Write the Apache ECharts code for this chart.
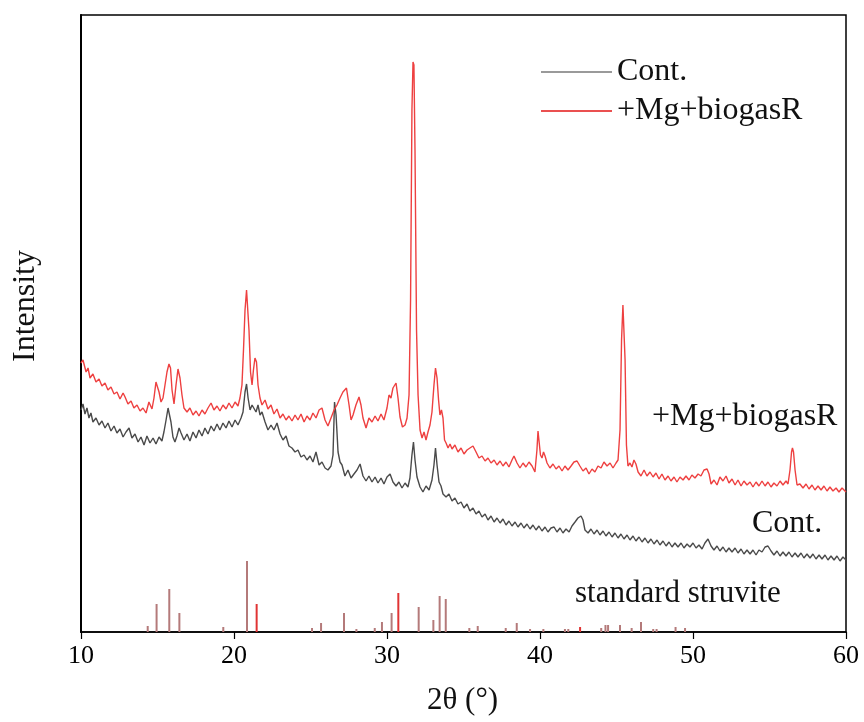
<!DOCTYPE html>
<html>
<head>
<meta charset="utf-8">
<script src="https://cdn.jsdelivr.net/npm/echarts@6/dist/echarts.min.js"></script>
<style>html,body{margin:0;padding:0;background:#fff}#c{width:864px;height:722px}</style>
</head>
<body>
<div id="c"></div>
<script>
// 2θ tick values
const xTicks = [10, 20, 30, 40, 50, 60];
const seriesNames = ['Cont.', '+Mg+biogasR'];

// +Mg+biogasR pattern: [2θ, intensity (a.u.)]
const mgData = [
[10.00,269],[10.13,272],[10.33,260],[10.46,264],[10.59,254],[10.78,258],[10.98,250],[11.18,253],[11.37,246],[11.57,249],
[11.76,242],[11.96,245],[12.16,238],[12.35,240],[12.55,233],[12.75,239],[12.88,235],[13.07,228],[13.27,231],[13.46,224],
[13.66,227],[13.86,221],[14.05,224],[14.25,219],[14.44,230],[14.64,223],[14.77,234],[14.90,250],[15.00,252],[15.10,240],
[15.23,230],[15.36,234],[15.49,247],[15.62,260],[15.75,268],[15.85,264],[15.95,242],[16.08,228],[16.21,247],[16.34,263],
[16.47,254],[16.60,237],[16.73,224],[16.93,220],[17.12,224],[17.32,217],[17.52,221],[17.71,216],[17.91,222],[18.10,218],
[18.30,224],[18.50,229],[18.69,222],[18.89,226],[19.08,221],[19.28,227],[19.48,223],[19.67,229],[19.87,224],[20.07,230],
[20.26,226],[20.39,234],[20.52,247],[20.62,282],[20.72,322],[20.82,342],[20.88,340],[20.98,302],[21.08,260],[21.18,247],
[21.27,262],[21.37,274],[21.47,270],[21.57,247],[21.70,234],[21.83,227],[22.03,232],[22.22,223],[22.42,227],[22.61,218],
[22.81,223],[23.01,214],[23.20,218],[23.40,212],[23.59,216],[23.79,211],[23.99,217],[24.18,212],[24.38,218],[24.58,210],
[24.77,216],[24.97,212],[25.16,219],[25.36,214],[25.56,222],[25.75,224],[25.95,212],[26.14,206],[26.34,214],[26.54,222],
[26.73,227],[26.93,234],[27.12,240],[27.35,244],[27.52,227],[27.65,212],[27.78,217],[27.97,227],[28.17,235],[28.30,227],
[28.43,214],[28.63,204],[28.82,214],[29.02,210],[29.22,216],[29.41,211],[29.61,218],[29.80,212],[30.00,224],[30.13,237],
[30.26,234],[30.39,244],[30.59,249],[30.72,234],[30.85,215],[31.01,205],[31.18,207],[31.31,214],[31.44,237],[31.54,332],
[31.63,522],[31.70,570],[31.76,567],[31.83,482],[31.93,302],[32.03,237],[32.16,202],[32.29,194],[32.42,200],[32.55,192],
[32.68,200],[32.81,207],[32.94,220],[33.07,247],[33.17,264],[33.27,254],[33.37,232],[33.46,217],[33.56,222],[33.66,214],
[33.76,192],[33.86,189],[33.99,184],[34.12,188],[34.25,183],[34.44,187],[34.64,180],[34.84,184],[35.03,178],[35.23,182],
[35.42,184],[35.62,186],[35.82,180],[36.01,174],[36.21,176],[36.41,171],[36.60,174],[36.80,169],[37.00,172],[37.19,167],
[37.39,171],[37.58,166],[37.78,170],[37.97,165],[38.17,172],[38.30,176],[38.50,169],[38.69,164],[38.89,169],[39.08,165],
[39.28,170],[39.48,166],[39.67,160],[39.80,182],[39.87,201],[39.93,192],[40.03,177],[40.13,174],[40.23,180],[40.33,176],
[40.46,169],[40.65,164],[40.85,168],[41.05,163],[41.24,166],[41.44,161],[41.63,166],[41.83,162],[42.03,166],[42.22,170],
[42.42,171],[42.61,166],[42.81,161],[43.01,164],[43.20,158],[43.40,163],[43.59,160],[43.79,166],[43.99,164],[44.18,170],
[44.38,166],[44.58,169],[44.77,164],[44.97,169],[45.10,172],[45.23,202],[45.33,292],[45.42,327],[45.49,328],[45.56,272],
[45.65,187],[45.75,166],[45.88,169],[46.01,165],[46.14,172],[46.27,168],[46.41,160],[46.60,156],[46.80,162],[46.99,156],
[47.19,160],[47.39,155],[47.58,159],[47.78,153],[47.97,158],[48.17,152],[48.37,156],[48.56,151],[48.76,155],[48.95,150],
[49.15,155],[49.35,152],[49.54,156],[49.74,152],[49.93,157],[50.13,154],[50.33,158],[50.52,156],[50.72,162],[50.92,163],
[51.05,158],[51.18,148],[51.37,152],[51.57,147],[51.76,155],[51.96,151],[52.16,156],[52.35,149],[52.55,153],[52.75,147],
[52.94,152],[53.14,146],[53.33,151],[53.53,147],[53.73,150],[53.92,145],[54.12,150],[54.31,146],[54.51,151],[54.71,146],
[54.90,150],[55.10,145],[55.29,149],[55.49,146],[55.69,151],[55.88,147],[56.08,151],[56.21,148],[56.34,162],[56.44,180],
[56.50,184],[56.57,180],[56.67,162],[56.80,147],[56.99,148],[57.19,144],[57.39,148],[57.58,143],[57.78,147],[57.97,142],
[58.17,146],[58.37,142],[58.56,146],[58.76,141],[58.95,145],[59.15,141],[59.35,144],[59.54,140],[59.74,144],[60.00,140]
];

// Cont. pattern: [2θ, intensity (a.u.)]
const contData = [
[10.00,222],[10.13,228],[10.26,218],[10.39,224],[10.52,214],[10.65,219],[10.78,210],[10.98,214],[11.18,207],[11.37,211],
[11.57,204],[11.76,209],[11.96,201],[12.16,206],[12.35,199],[12.55,203],[12.75,195],[12.94,200],[13.14,204],[13.33,194],
[13.53,198],[13.73,190],[13.92,195],[14.12,187],[14.31,196],[14.51,189],[14.71,194],[14.90,188],[15.10,195],[15.29,191],
[15.42,200],[15.56,212],[15.69,224],[15.78,226],[15.88,210],[16.01,195],[16.14,190],[16.27,196],[16.41,204],[16.54,199],
[16.73,192],[16.93,198],[17.12,191],[17.32,200],[17.52,194],[17.71,202],[17.91,196],[18.10,204],[18.30,198],[18.50,206],
[18.69,201],[18.89,208],[19.08,202],[19.28,209],[19.48,204],[19.67,211],[19.87,205],[20.07,212],[20.26,207],[20.46,214],
[20.59,220],[20.72,240],[20.82,248],[20.92,234],[21.05,222],[21.18,227],[21.31,226],[21.44,220],[21.57,227],[21.70,217],
[21.83,220],[22.03,210],[22.22,202],[22.42,207],[22.61,202],[22.81,209],[23.01,198],[23.20,192],[23.40,196],[23.59,186],
[23.79,184],[23.99,180],[24.18,182],[24.38,175],[24.58,177],[24.77,172],[24.97,176],[25.16,170],[25.36,180],[25.56,167],
[25.75,170],[25.95,164],[26.14,162],[26.34,166],[26.47,177],[26.57,230],[26.67,217],[26.80,180],[26.93,170],[27.06,167],
[27.25,156],[27.45,162],[27.65,154],[27.84,158],[28.04,162],[28.24,168],[28.43,156],[28.63,151],[28.82,156],[29.02,150],
[29.22,155],[29.41,149],[29.61,154],[29.80,148],[30.00,155],[30.20,158],[30.39,150],[30.59,146],[30.78,150],[30.98,144],
[31.18,149],[31.37,145],[31.50,154],[31.63,177],[31.73,190],[31.83,172],[31.96,155],[32.16,145],[32.35,140],[32.55,146],
[32.75,142],[32.94,152],[33.07,167],[33.17,184],[33.27,167],[33.40,150],[33.53,146],[33.66,138],[33.86,135],[34.05,138],
[34.25,131],[34.44,134],[34.64,128],[34.84,130],[35.03,124],[35.23,128],[35.42,121],[35.62,124],[35.82,118],[36.01,121],
[36.21,115],[36.41,118],[36.60,112],[36.80,116],[37.00,110],[37.19,114],[37.39,109],[37.58,113],[37.78,107],[37.97,111],
[38.17,106],[38.37,110],[38.56,105],[38.76,109],[38.95,104],[39.15,108],[39.35,103],[39.54,107],[39.74,102],[39.93,106],
[40.13,101],[40.33,105],[40.52,100],[40.72,104],[40.92,105],[41.11,100],[41.31,104],[41.50,99],[41.70,103],[41.90,100],
[42.09,106],[42.29,110],[42.48,114],[42.68,116],[42.81,112],[42.94,102],[43.14,99],[43.33,103],[43.53,98],[43.73,102],
[43.92,97],[44.12,101],[44.31,96],[44.51,100],[44.71,95],[44.90,99],[45.10,94],[45.29,98],[45.49,93],[45.69,97],
[45.88,92],[46.08,96],[46.27,91],[46.47,95],[46.67,90],[46.86,94],[47.06,89],[47.25,93],[47.45,88],[47.65,92],
[47.84,87],[48.04,91],[48.24,86],[48.43,90],[48.63,85],[48.82,89],[49.02,85],[49.22,89],[49.41,84],[49.61,88],
[49.80,85],[50.00,89],[50.20,84],[50.39,87],[50.59,83],[50.78,89],[50.98,93],[51.18,86],[51.37,82],[51.57,86],
[51.76,81],[51.96,85],[52.16,80],[52.35,84],[52.55,80],[52.75,84],[52.94,79],[53.14,83],[53.33,78],[53.53,82],
[53.73,78],[53.92,82],[54.12,77],[54.31,82],[54.51,80],[54.71,85],[54.90,86],[55.10,81],[55.29,77],[55.49,81],
[55.69,76],[55.88,80],[56.08,76],[56.27,80],[56.47,75],[56.67,79],[56.86,75],[57.06,79],[57.25,74],[57.45,78],
[57.65,74],[57.84,78],[58.04,73],[58.24,77],[58.43,73],[58.63,77],[58.82,72],[59.02,76],[59.22,72],[59.41,76],
[59.61,71],[59.80,75],[60.00,72]
];

// standard struvite reference lines: [2θ, relative height]
const struviteLines = [
[14.36,6],[14.94,28],[15.77,43],[16.43,19],[19.30,5],[20.85,71],[25.10,4],[25.69,9],[27.19,19],[28.00,3],
[29.20,4],[29.67,10],[30.30,19],[32.07,25],[33.03,12],[33.44,36],[33.84,33],[35.38,4],[35.93,6],[37.76,4],
[38.48,9],[39.35,3],[40.22,3],[41.63,3],[41.85,3],[44.00,4],[44.28,7],[44.45,7],[45.23,7],[45.99,4],
[46.60,10],[47.40,3],[47.62,3],[48.86,5],[49.48,4]
];
const struviteStrong = [[21.48,28],[30.74,39],[42.62,5]];

const FONT = "'Liberation Serif','Times New Roman',serif";
const chart = echarts.init(document.getElementById('c'));

function stickRenderer(color) {
  return function (params, api) {
    const p0 = api.coord([api.value(0), 0]);
    const p1 = api.coord([api.value(0), api.value(1)]);
    return {
      type: 'line',
      shape: { x1: p0[0], y1: p0[1], x2: p1[0], y2: p1[1] },
      style: { stroke: color, lineWidth: 2 }
    };
  };
}

chart.setOption({
  animation: false,
  backgroundColor: '#fff',
  grid: { left: 81, right: 18, top: 15, bottom: 90, show: true, borderColor: '#000', borderWidth: 1.5, backgroundColor: 'transparent' },
  xAxis: {
    type: 'value', min: xTicks[0], max: xTicks[xTicks.length - 1], interval: 10,
    axisLine: { show: true, onZero: false, lineStyle: { color: '#000', width: 1.5 } },
    axisTick: { show: true, inside: false, length: 7, lineStyle: { color: '#000', width: 1.2 } },
    axisLabel: { fontSize: 26, color: '#000', fontFamily: FONT, margin: 11 },
    splitLine: { show: false }
  },
  yAxis: {
    type: 'value', min: 0, max: 617,
    axisLine: { show: true, lineStyle: { color: '#000', width: 2 } },
    axisTick: { show: false }, axisLabel: { show: false }, splitLine: { show: false }
  },
  legend: {
    data: [
      { name: seriesNames[0], icon: 'rect', itemStyle: { color: '#9a9a9a' } },
      { name: seriesNames[1], icon: 'rect', itemStyle: { color: '#ea5050' } }
    ],
    orient: 'vertical', left: 541, top: 56, padding: 0,
    itemWidth: 71, itemHeight: 2, itemGap: 7,
    textStyle: { fontSize: 32, fontFamily: FONT, color: '#111', lineHeight: 32 }
  },
  series: [
    {
      name: seriesNames[0], type: 'line', data: contData, showSymbol: false, symbol: 'none',
      lineStyle: { color: '#4a4a4a', width: 1.4 }, itemStyle: { color: '#4a4a4a' }, z: 3
    },
    {
      name: seriesNames[1], type: 'line', data: mgData, showSymbol: false, symbol: 'none',
      lineStyle: { color: '#ee4040', width: 1.4 }, itemStyle: { color: '#ee4040' }, z: 4
    },
    { name: 'struvite', type: 'custom', data: struviteLines, renderItem: stickRenderer('#b47a7a'), z: 2 },
    { name: 'struvite2', type: 'custom', data: struviteStrong, renderItem: stickRenderer('#e03434'), z: 2 }
  ],
  graphic: [
    { type: 'text', left: 652, top: 401, style: { text: '+Mg+biogasR', font: '32px ' + FONT, fill: '#111' } },
    { type: 'text', left: 752, top: 508, style: { text: 'Cont.', font: '32px ' + FONT, fill: '#111' } },
    { type: 'text', left: 575, top: 578, style: { text: 'standard struvite', font: '31px ' + FONT, fill: '#111' } },
    { type: 'text', left: 427, top: 685, style: { text: '2θ (°)', font: '31px ' + FONT, fill: '#111' } },
    { type: 'text', x: 26, y: 306, rotation: Math.PI / 2, style: { text: 'Intensity', font: '32px ' + FONT, fill: '#111', align: 'center', verticalAlign: 'middle' } }
  ]
});
</script>
</body>
</html>
